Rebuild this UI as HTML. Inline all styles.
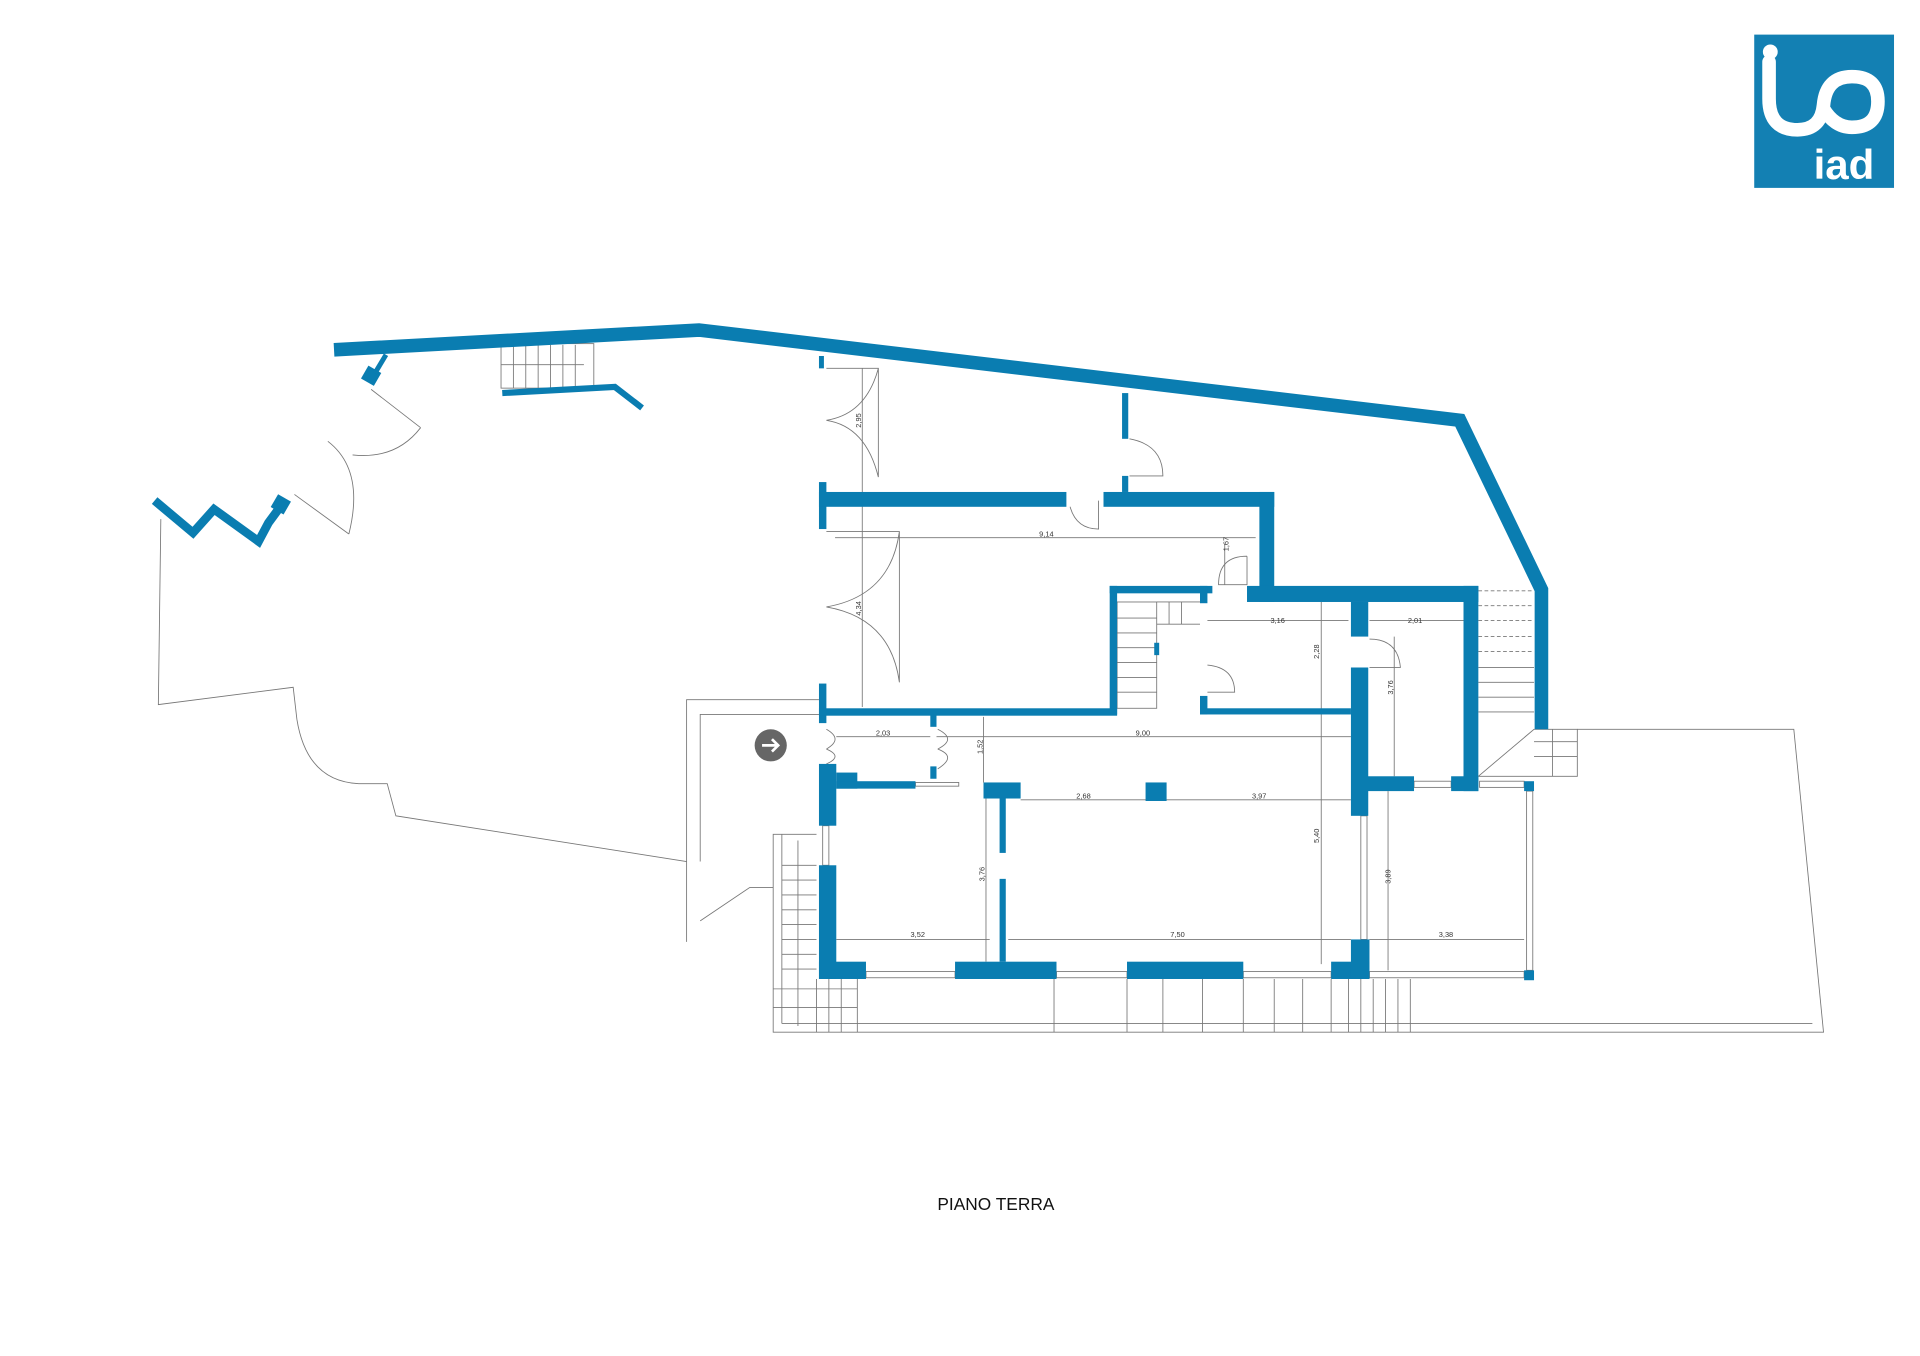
<!DOCTYPE html>
<html><head><meta charset="utf-8"><style>html,body{margin:0;padding:0;background:#fff}svg{display:block}</style></head>
<body>
<svg width="1920" height="1356" viewBox="0 0 1552 1097" preserveAspectRatio="none" xmlns="http://www.w3.org/2000/svg">
<rect width="1552" height="1097" fill="#fff"/>
<!-- logo -->
<rect x="1418" y="28" width="113" height="124" fill="#1380b3"/>
<path d="M1430 50 V80 Q1430 105 1453 105 Q1472 105 1474 85 Q1476 62 1497 62 Q1518 62 1518 82 Q1518 103 1497 103 Q1483 103 1474 88" fill="none" stroke="#fff" stroke-width="11" stroke-linecap="round"/>
<circle cx="1431" cy="42" r="6" fill="#fff"/>
<text x="1466" y="145" font-family="Liberation Sans, sans-serif" font-weight="bold" font-size="34" fill="#fff">iad</text>
<g fill="none" stroke="#777" stroke-width="0.7">
<!-- garden outline -->
<polyline points="130,420 128,570 237,556 240,582"/>
<path d="M240,582 Q248,632 290,634 L313,634 L320,660 L555,697"/>
<polyline points="555,762 555,566 662,566"/>
<polyline points="566,697 566,578 662,578"/>
<polyline points="566,745 606,718 625,718"/>
<!-- left doors -->
<line x1="300" y1="315" x2="340" y2="346"/>
<path d="M340,346 Q320,372 285,368"/>
<path d="M265,357 Q295,380 282,432"/>
<line x1="282" y1="432" x2="238" y2="400"/>
<!-- top stairs -->
<rect x="405" y="278" width="75" height="36"/>
<line x1="415" y1="279" x2="415" y2="314"/><line x1="425" y1="279" x2="425" y2="314"/><line x1="435" y1="279" x2="435" y2="314"/><line x1="445" y1="279" x2="445" y2="314"/><line x1="455" y1="279" x2="455" y2="314"/><line x1="465" y1="279" x2="465" y2="314"/>
<line x1="405" y1="295" x2="472" y2="295"/>
<!-- doors on left building side -->
<path d="M668,298 L710,298 L710,386 M668,340 Q700,345 710,386 M668,340 Q700,335 710,298"/>
<path d="M668,430 L727,430 L727,552 M668,491 Q720,500 727,552 M668,491 Q720,482 727,430"/>
<line x1="697" y1="298" x2="697" y2="572"/>
<line x1="675" y1="435" x2="1015" y2="435"/>
<!-- upper room door -->
<path d="M913,355 Q940,360 940,385 L913,385"/>
<path d="M865,410 Q870,428 888,428 L888,405"/>
<!-- 1.67 door -->
<path d="M1008,450 Q985,450 985,473 L1008,473 L1008,450"/>
<line x1="990" y1="440" x2="990" y2="473"/>
<!-- stair room -->
<rect x="903" y="487" width="32" height="86"/>
<line x1="903" y1="500" x2="935" y2="500"/><line x1="903" y1="512" x2="935" y2="512"/><line x1="903" y1="524" x2="935" y2="524"/><line x1="903" y1="536" x2="935" y2="536"/><line x1="903" y1="548" x2="935" y2="548"/><line x1="903" y1="560" x2="935" y2="560"/>
<line x1="935" y1="487" x2="970" y2="487"/><line x1="935" y1="505" x2="970" y2="505"/>
<line x1="945" y1="487" x2="945" y2="505"/><line x1="955" y1="487" x2="955" y2="505"/>
<path d="M976,538 Q998,540 998,560 L976,560"/>
<line x1="976" y1="502" x2="1090" y2="502"/>
<line x1="1068" y1="487" x2="1068" y2="780"/>
<!-- right small room -->
<line x1="1107" y1="502" x2="1183" y2="502"/>
<line x1="1127" y1="515" x2="1127" y2="628"/>
<path d="M1107,517 Q1130,517 1132,540 L1107,540"/>
<!-- right stairs -->
<g stroke-dasharray="3,2"><line x1="1195" y1="478" x2="1240" y2="478"/><line x1="1195" y1="490" x2="1240" y2="490"/><line x1="1195" y1="502" x2="1240" y2="502"/><line x1="1195" y1="515" x2="1240" y2="515"/><line x1="1195" y1="527" x2="1240" y2="527"/></g>
<line x1="1195" y1="540" x2="1240" y2="540"/><line x1="1195" y1="552" x2="1240" y2="552"/><line x1="1195" y1="564" x2="1240" y2="564"/><line x1="1195" y1="576" x2="1240" y2="576"/>
<polyline points="1195,628 1240,590 1275,590 1275,628 1195,628"/>
<line x1="1255" y1="590" x2="1255" y2="628"/><line x1="1240" y1="600" x2="1275" y2="600"/><line x1="1240" y1="612" x2="1275" y2="612"/>
<!-- terrace -->
<polyline points="1275,590 1450,590 1474,835 625,835 625,675 660,675"/>
<line x1="632" y1="828" x2="1465" y2="828"/>
<line x1="632" y1="675" x2="632" y2="828"/>
<line x1="632" y1="700" x2="660" y2="700"/><line x1="632" y1="712" x2="660" y2="712"/><line x1="632" y1="724" x2="660" y2="724"/><line x1="632" y1="736" x2="660" y2="736"/><line x1="632" y1="748" x2="660" y2="748"/><line x1="632" y1="760" x2="660" y2="760"/><line x1="632" y1="772" x2="660" y2="772"/><line x1="632" y1="784" x2="660" y2="784"/><line x1="625" y1="800" x2="693" y2="800"/><line x1="625" y1="815" x2="693" y2="815"/>
<line x1="645" y1="680" x2="645" y2="830"/><line x1="660" y1="792" x2="660" y2="835"/><line x1="670" y1="792" x2="670" y2="835"/><line x1="680" y1="792" x2="680" y2="835"/><line x1="693" y1="792" x2="693" y2="835"/>
<line x1="852" y1="792" x2="852" y2="835"/><line x1="911" y1="792" x2="911" y2="835"/><line x1="940" y1="792" x2="940" y2="835"/><line x1="972" y1="792" x2="972" y2="835"/><line x1="1005" y1="792" x2="1005" y2="835"/><line x1="1030" y1="792" x2="1030" y2="835"/><line x1="1053" y1="792" x2="1053" y2="835"/><line x1="1076" y1="792" x2="1076" y2="835"/><line x1="1090" y1="792" x2="1090" y2="835"/><line x1="1100" y1="792" x2="1100" y2="835"/><line x1="1110" y1="792" x2="1110" y2="835"/><line x1="1120" y1="792" x2="1120" y2="835"/><line x1="1130" y1="792" x2="1130" y2="835"/><line x1="1140" y1="792" x2="1140" y2="835"/>
<!-- lower dims -->
<line x1="676" y1="596" x2="752" y2="596"/><line x1="757" y1="596" x2="1092" y2="596"/>
<line x1="795" y1="580" x2="795" y2="633"/>
<line x1="825" y1="647" x2="1092" y2="647"/>
<line x1="676" y1="760" x2="800" y2="760"/><line x1="815" y1="760" x2="1092" y2="760"/>
<line x1="1107" y1="760" x2="1232" y2="760"/>
<line x1="797" y1="640" x2="797" y2="778"/>
<line x1="1122" y1="640" x2="1122" y2="785"/>
<!-- entry doors -->
<path d="M668,590 Q682,598 668,606 M668,606 Q682,612 668,618"/>
<path d="M758,590 Q774,598 758,606 M758,606 Q774,612 758,622"/>
<!-- windows -->
<rect x="700" y="786" width="72" height="5"/><rect x="854" y="786" width="57" height="5"/><rect x="1005" y="786" width="71" height="5"/><rect x="1107" y="786" width="125" height="5"/>
<rect x="665" y="668" width="5" height="32"/><rect x="1100" y="660" width="5" height="100"/><rect x="1234" y="640" width="5" height="145"/><rect x="1143" y="632" width="30" height="5"/><rect x="1196" y="632" width="36" height="5"/>
<rect x="740" y="633" width="35" height="3"/>
</g>
<!-- walls -->
<g fill="#0a7db1" stroke="none">
<polyline points="270,283 565,267 1180,340 1246,477 1246,590" fill="none" stroke="#0a7db1" stroke-width="11"/>
<polyline points="125,405 156,431 173,412 209,438 217,423 228,408" fill="none" stroke="#0a7db1" stroke-width="7"/>
<rect x="221" y="402" width="12" height="12" transform="rotate(30 227 408)"/>
<rect x="294" y="298" width="12" height="12" transform="rotate(30 300 304)"/>
<line x1="303" y1="302" x2="312" y2="287" stroke="#0a7db1" stroke-width="4"/>
<polyline points="406,318 497,313 519,330" fill="none" stroke="#0a7db1" stroke-width="5"/>
<rect x="662" y="288" width="4" height="10"/>
<rect x="662" y="390" width="6" height="38"/>
<rect x="662" y="398" width="200" height="12"/>
<rect x="892" y="398" width="138" height="12"/>
<rect x="1018" y="398" width="12" height="89"/>
<rect x="1008" y="474" width="187" height="13"/>
<rect x="1183" y="474" width="12" height="166"/>
<rect x="907" y="318" width="5" height="37"/>
<rect x="907" y="385" width="5" height="13"/>
<rect x="897" y="474" width="83" height="6"/>
<rect x="897" y="474" width="6" height="104"/>
<rect x="970" y="474" width="6" height="14"/>
<rect x="970" y="563" width="6" height="15"/>
<rect x="933" y="520" width="4" height="10"/>
<rect x="662" y="553" width="6" height="32"/>
<rect x="662" y="573" width="241" height="6"/>
<rect x="970" y="573" width="122" height="5"/>
<rect x="1092" y="487" width="14" height="28"/>
<rect x="1092" y="540" width="14" height="120"/>
<rect x="1105" y="628" width="38" height="12"/>
<rect x="1173" y="628" width="22" height="12"/>
<rect x="662" y="618" width="14" height="50"/>
<rect x="676" y="625" width="17" height="13"/>
<rect x="676" y="632" width="64" height="6"/>
<rect x="662" y="700" width="14" height="92"/>
<rect x="662" y="778" width="38" height="14"/>
<rect x="772" y="778" width="82" height="14"/>
<rect x="911" y="778" width="94" height="14"/>
<rect x="1076" y="778" width="31" height="14"/>
<rect x="1092" y="760" width="15" height="32"/>
<rect x="795" y="633" width="30" height="13"/>
<rect x="808" y="645" width="5" height="45"/>
<rect x="808" y="711" width="5" height="67"/>
<rect x="926" y="633" width="17" height="15"/>
<rect x="752" y="578" width="5" height="10"/>
<rect x="752" y="620" width="5" height="10"/>
<rect x="1232" y="632" width="8" height="8"/>
<rect x="1232" y="785" width="8" height="8"/>
</g>
<!-- entry icon -->
<circle cx="623" cy="603" r="13" fill="#666"/>
<path d="M616,603 H629 M624,598 L629,603 L624,608" fill="none" stroke="#fff" stroke-width="2.2"/>
<!-- dims labels -->
<g font-family="Liberation Sans, sans-serif" font-size="6" fill="#333">
<text x="840" y="434">9,14</text>
<text x="1027" y="504">3,16</text>
<text x="1138" y="504">2,01</text>
<text x="708" y="595">2,03</text>
<text x="918" y="595">9,00</text>
<text x="870" y="646">2,68</text>
<text x="1012" y="646">3,97</text>
<text x="736" y="758">3,52</text>
<text x="946" y="758">7,50</text>
<text x="1163" y="758">3,38</text>
<text transform="translate(696,346) rotate(-90)">2,95</text>
<text transform="translate(696,498) rotate(-90)">4,34</text>
<text transform="translate(993,446) rotate(-90)">1,67</text>
<text transform="translate(1066,533) rotate(-90)">2,28</text>
<text transform="translate(1126,562) rotate(-90)">3,76</text>
<text transform="translate(794,610) rotate(-90)">1,52</text>
<text transform="translate(796,713) rotate(-90)">3,76</text>
<text transform="translate(1066,682) rotate(-90)">5,40</text>
<text transform="translate(1124,715) rotate(-90)">3,89</text>
</g>
<text x="805" y="979" text-anchor="middle" font-family="Liberation Sans, sans-serif" font-size="14" fill="#111">PIANO TERRA</text>
</svg>
</body></html>
